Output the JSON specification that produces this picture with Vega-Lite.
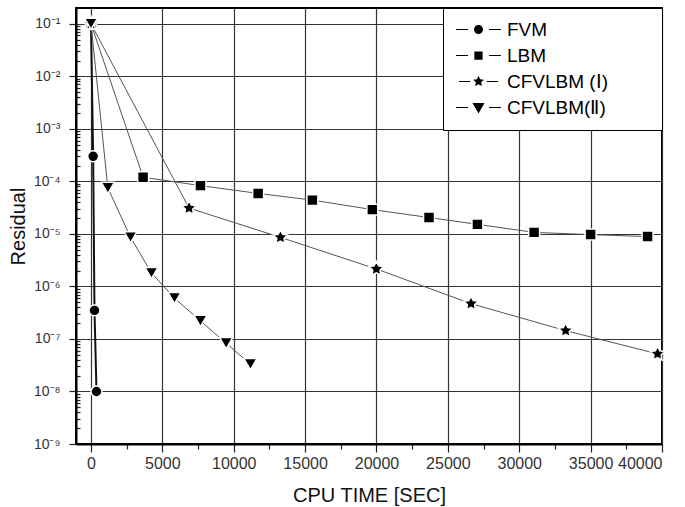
{
  "$schema": "https://vega.github.io/schema/vega-lite/v6.json",
  "width": 586,
  "height": 436,
  "autosize": "none",
  "padding": {"left": 76, "top": 8, "right": 23, "bottom": 63},
  "background": "white",
  "config": {
    "font": "Liberation Sans",
    "view": {"stroke": "black", "strokeWidth": 2},
    "axis": {
      "domainColor": "black",
      "domainWidth": 2,
      "tickColor": "#222",
      "tickWidth": 1.2,
      "gridColor": "#333",
      "gridWidth": 1.2,
      "labelFont": "Liberation Sans",
      "labelColor": "#333",
      "labelOverlap": false,
      "titleFont": "Liberation Sans",
      "titleFontSize": 20,
      "titleFontWeight": "normal",
      "titleColor": "#111"
    }
  },
  "data": {
    "values": [
      {"series": "FVM", "t": 0, "r": 0.1},
      {"series": "FVM", "t": 150, "r": 3e-4},
      {"series": "FVM", "t": 245, "r": 3.5e-7},
      {"series": "FVM", "t": 385, "r": 1e-8},
      {"series": "LBM", "t": 0, "r": 0.1},
      {"series": "LBM", "t": 3650, "r": 1.2e-4},
      {"series": "LBM", "t": 7670, "r": 8.3e-5},
      {"series": "LBM", "t": 11710, "r": 5.9e-5},
      {"series": "LBM", "t": 15510, "r": 4.4e-5},
      {"series": "LBM", "t": 19710, "r": 2.9e-5},
      {"series": "LBM", "t": 23680, "r": 2.05e-5},
      {"series": "LBM", "t": 27070, "r": 1.52e-5},
      {"series": "LBM", "t": 31040, "r": 1.07e-5},
      {"series": "LBM", "t": 35000, "r": 9.7e-6},
      {"series": "LBM", "t": 38990, "r": 8.9e-6},
      {"series": "CFVLBM (Ⅰ)", "t": 0, "r": 0.1},
      {"series": "CFVLBM (Ⅰ)", "t": 6870, "r": 3.1e-5},
      {"series": "CFVLBM (Ⅰ)", "t": 13270, "r": 8.6e-6},
      {"series": "CFVLBM (Ⅰ)", "t": 19990, "r": 2.15e-6},
      {"series": "CFVLBM (Ⅰ)", "t": 26620, "r": 4.7e-7},
      {"series": "CFVLBM (Ⅰ)", "t": 33250, "r": 1.44e-7},
      {"series": "CFVLBM (Ⅰ)", "t": 39690, "r": 5.2e-8},
      {"series": "CFVLBM(Ⅱ)", "t": 0, "r": 0.1},
      {"series": "CFVLBM(Ⅱ)", "t": 1180, "r": 7.5e-5},
      {"series": "CFVLBM(Ⅱ)", "t": 2770, "r": 8.6e-6},
      {"series": "CFVLBM(Ⅱ)", "t": 4240, "r": 1.8e-6},
      {"series": "CFVLBM(Ⅱ)", "t": 5850, "r": 6e-7},
      {"series": "CFVLBM(Ⅱ)", "t": 7670, "r": 2.2e-7},
      {"series": "CFVLBM(Ⅱ)", "t": 9470, "r": 8.3e-8},
      {"series": "CFVLBM(Ⅱ)", "t": 11170, "r": 3.3e-8}
    ]
  },
  "encoding": {
    "x": {
      "field": "t",
      "type": "quantitative",
      "title": "CPU TIME [SEC]",
      "scale": {"domain": [-1050, 40000], "nice": false, "zero": false},
      "axis": {
        "values": [0, 2500, 5000, 7500, 10000, 12500, 15000, 17500, 20000, 22500, 25000, 27500, 30000, 32500, 35000, 37500, 40000],
        "format": "d",
        "labelExpr": "datum.value % 5000 === 0 ? datum.label : ''",
        "labelFontSize": 16,
        "tickSize": {"condition": {"test": "datum.value % 5000 === 0", "value": 8}, "value": 5},
        "labelPadding": 3,
        "titleY": 51,
        "titleBaseline": "middle",
        "grid": true,
        "gridOpacity": {"condition": {"test": "datum.value % 5000 === 0", "value": 1}, "value": 0}
      }
    },
    "y": {
      "field": "r",
      "type": "quantitative",
      "title": "Residual",
      "scale": {"type": "log", "domain": [1e-9, 0.2], "nice": false},
      "axis": {
        "values": [1e-9, 2e-9, 3e-9, 4e-9, 5e-9, 6e-9, 7e-9, 8e-9, 9e-9,
                   1e-8, 2e-8, 3e-8, 4e-8, 5e-8, 6e-8, 7e-8, 8e-8, 9e-8,
                   1e-7, 2e-7, 3e-7, 4e-7, 5e-7, 6e-7, 7e-7, 8e-7, 9e-7,
                   1e-6, 2e-6, 3e-6, 4e-6, 5e-6, 6e-6, 7e-6, 8e-6, 9e-6,
                   1e-5, 2e-5, 3e-5, 4e-5, 5e-5, 6e-5, 7e-5, 8e-5, 9e-5,
                   1e-4, 2e-4, 3e-4, 4e-4, 5e-4, 6e-4, 7e-4, 8e-4, 9e-4,
                   1e-3, 2e-3, 3e-3, 4e-3, 5e-3, 6e-3, 7e-3, 8e-3, 9e-3,
                   1e-2, 2e-2, 3e-2, 4e-2, 5e-2, 6e-2, 7e-2, 8e-2, 9e-2,
                   1e-1],
        "labelExpr": "abs(log(datum.value)/LN10 - round(log(datum.value)/LN10)) < 1e-6 ? '10⁻' + ['⁰','¹','²','³','⁴','⁵','⁶','⁷','⁸','⁹'][-round(log(datum.value)/LN10)] : ''",
        "labelFontSize": 14,
        "tickSize": {"condition": {"test": "abs(log(datum.value)/LN10 - round(log(datum.value)/LN10)) < 1e-6", "value": 7}, "value": -4},
        "labelPadding": 9,
        "titleX": -58,
        "titleBaseline": "middle",
        "grid": true,
        "gridOpacity": {"condition": {"test": "abs(log(datum.value)/LN10 - round(log(datum.value)/LN10)) < 1e-6", "value": 1}, "value": 0}
      }
    }
  },
  "layer": [
    {
      "mark": {"type": "line"},
      "encoding": {
        "detail": {"field": "series"},
        "strokeWidth": {"condition": {"test": "datum.series === 'FVM'", "value": 2}, "value": 1},
        "stroke": {"condition": {"test": "datum.series === 'FVM'", "value": "#111"}, "value": "#555"}
      }
    },
    {
      "mark": {"type": "point", "filled": true, "fill": "black", "stroke": "white", "strokeWidth": 1.5, "opacity": 1},
      "encoding": {
        "shape": {
          "field": "series",
          "type": "nominal",
          "legend": null,
          "scale": {
            "domain": ["FVM", "LBM", "CFVLBM (Ⅰ)", "CFVLBM(Ⅱ)"],
            "range": ["circle", "square", "M0,-1L0.294,-0.405L0.951,-0.309L0.476,0.155L0.588,0.809L0,0.5L-0.588,0.809L-0.476,0.155L-0.951,-0.309L-0.294,-0.405Z", "triangle-down"]
          }
        },
        "size": {"condition": [{"test": "datum.series === 'CFVLBM (Ⅰ)'", "value": 230}, {"test": "datum.series === 'CFVLBM(Ⅱ)'", "value": 170}], "value": 120}
      }
    },
    {
      "mark": {"type": "point", "filled": true, "fill": "black", "stroke": "black", "strokeWidth": 0, "opacity": 0},
      "encoding": {
        "shape": {
          "field": "series",
          "type": "nominal",
          "scale": {
            "domain": ["FVM", "LBM", "CFVLBM (Ⅰ)", "CFVLBM(Ⅱ)"],
            "range": [
              "M-3,-0.08H-1.4V0.08H-3ZM1.4,-0.08H3V0.08H1.4ZM0.6,0A0.6,0.6 0 1 1 -0.6,0A0.6,0.6 0 1 1 0.6,0Z",
              "M-3,-0.08H-1.4V0.08H-3ZM1.4,-0.08H3V0.08H1.4ZM-0.55,-0.55H0.55V0.55H-0.55Z",
              "M-2.6,-0.08H-1.1V0.08H-2.6ZM1.1,-0.08H2.6V0.08H1.1ZM0,-0.75L0.221,-0.304L0.713,-0.232L0.357,0.116L0.441,0.607L0,0.375L-0.441,0.607L-0.357,0.116L-0.713,-0.232L-0.221,-0.304Z",
              "M-3,-0.08H-1.4V0.08H-3ZM1.4,-0.08H3V0.08H1.4ZM-0.8,-0.6H0.8L0,0.8Z"
            ]
          },
          "legend": {
            "title": null,
            "orient": "top-right",
            "offset": 0,
            "padding": 12,
            "fillColor": "white",
            "strokeColor": "black",
            "symbolSize": 225,
            "symbolOffset": 14,
            "labelOffset": 19,
            "rowPadding": 6,
            "labelFont": "Liberation Sans",
            "labelFontSize": 19,
            "labelColor": "black",
            "labelExpr": "datum.label + '\u2800\u2800\u2800'",
            "symbolFillColor": "black",
            "symbolStrokeWidth": 0,
            "symbolOpacity": 1
          }
        }
      }
    }
  ],
  "resolve": {"scale": {"shape": "independent"}, "legend": {"shape": "independent"}}
}
